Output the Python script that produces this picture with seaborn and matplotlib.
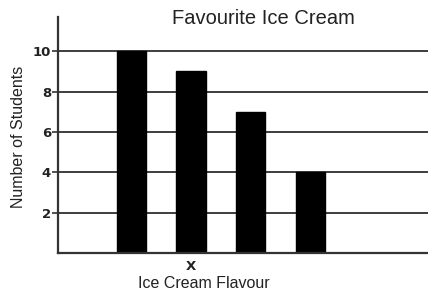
import matplotlib
matplotlib.use("Agg")
import matplotlib.pyplot as plt
import seaborn as sns
import pandas as pd

categories = ["Flavour 1", "Flavour 2", "Flavour 3", "Flavour 4"]
students = [10, 9, 7, 4]
tick_labels = ["", "X", "", ""]
y_ticks = [2, 4, 6, 8, 10]

sns.set_theme(style="white")
plt.rcParams["font.family"] = ["Liberation Sans", "DejaVu Sans"]

df = pd.DataFrame({"flavour": categories, "students": students})

W, H = 428, 293
fig = plt.figure(figsize=(W / 100, H / 100), dpi=100)
ax = fig.add_axes([58 / W, 1 - 253 / H, 1 - 58 / W, (253 - 17) / H])

ax.set_axisbelow(True)
for t in y_ticks:
    ax.axhline(t, color="#2e2e2e", lw=1.3, zorder=0)

sns.barplot(data=df, x="flavour", y="students", color="black", width=0.49,
            edgecolor="black", saturation=1, ax=ax, zorder=2)

ax.set_xlim(-1.23, 4.97)
ax.set_ylim(0, 11.7)
ax.set_yticks(y_ticks)
ax.set_yticklabels([str(t) for t in y_ticks], fontfamily="DejaVu Sans",
                   fontweight="bold", fontsize=9.5, color="#222222")
ax.set_xticks(range(len(categories)))
ax.set_xticklabels(tick_labels, fontfamily="DejaVu Sans", fontweight="bold",
                   fontsize=9.5, color="#222222")
ax.tick_params(axis="y", length=4, width=1.2, color="#333333", pad=1, left=True)
ax.tick_params(axis="x", length=0, pad=5)

for s in ["top", "right"]:
    ax.spines[s].set_visible(False)
for s in ["left", "bottom"]:
    ax.spines[s].set_color("#333333")
    ax.spines[s].set_linewidth(1.6)

ax.set_xlabel("")
ax.set_ylabel("")
fig.text(19 / W, 1 - 137 / H, "Number of Students", rotation=90,
         ha="center", va="center", fontsize=11.5, color="#222222")
fig.text(204 / W, 1 - 283 / H, "Ice Cream Flavour", ha="center", va="center",
         fontsize=11.5, color="#222222")
fig.text(263 / W, 1 - 18 / H, "Favourite Ice Cream", ha="center", va="center",
         fontsize=14.5, color="#222222")

fig.savefig("out.png", dpi=100, facecolor="white")
